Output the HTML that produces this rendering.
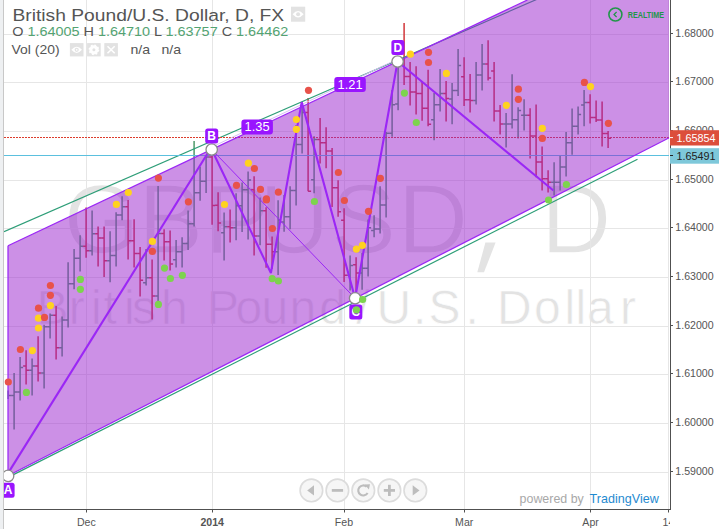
<!DOCTYPE html><html><head><meta charset="utf-8"><style>
html,body{margin:0;padding:0;background:#fff;overflow:hidden}
svg{display:block}
text{font-family:"Liberation Sans",sans-serif}
</style></head><body>
<svg width="719" height="529" viewBox="0 0 719 529">
<rect width="719" height="529" fill="#ffffff"/>
<rect x="0" y="0" width="3" height="529" fill="#eef0f2"/>
<rect x="3" y="0" width="1" height="529" fill="#c8c8c8"/>
<defs><clipPath id="pane"><rect x="4" y="0" width="665" height="509"/></clipPath></defs>
<g clip-path="url(#pane)">
<text x="63.5 138.0 204.5 258.9 330.7 397.5 540.7" y="252.7" font-size="98" fill="#e3e3e3" stroke="#fff" stroke-width="1.4">GBPUSDD</text>
<polygon points="485.4,242.6 495.6,242.6 484,272.3 477.3,272.3" fill="#e3e3e3"/>
<text x="36.4 68.7 91.1 103.4 124.0 132.1 161.0 207.0 235.4 261.5 289.6 319.2 356.3 376.6 413.1 428.6 465.5 496.9 534.0 564.5 575.6 586.9 619.9" y="324.2" font-size="48" fill="#e3e3e3" stroke="#fff" stroke-width="0.6">BritishPound/U.S.Dollar</text>
<line x1="4" y1="34.5" x2="670" y2="34.5" stroke="#e6e6e6" stroke-width="1"/>
<line x1="4" y1="82.5" x2="670" y2="82.5" stroke="#e6e6e6" stroke-width="1"/>
<line x1="4" y1="131.5" x2="670" y2="131.5" stroke="#e6e6e6" stroke-width="1"/>
<line x1="4" y1="180.5" x2="670" y2="180.5" stroke="#e6e6e6" stroke-width="1"/>
<line x1="4" y1="228.5" x2="670" y2="228.5" stroke="#e6e6e6" stroke-width="1"/>
<line x1="4" y1="277.5" x2="670" y2="277.5" stroke="#e6e6e6" stroke-width="1"/>
<line x1="4" y1="326.5" x2="670" y2="326.5" stroke="#e6e6e6" stroke-width="1"/>
<line x1="4" y1="374.5" x2="670" y2="374.5" stroke="#e6e6e6" stroke-width="1"/>
<line x1="4" y1="423.5" x2="670" y2="423.5" stroke="#e6e6e6" stroke-width="1"/>
<line x1="4" y1="472.5" x2="670" y2="472.5" stroke="#e6e6e6" stroke-width="1"/>
<line x1="86.5" y1="0" x2="86.5" y2="509" stroke="#e6e6e6" stroke-width="1"/>
<line x1="212.5" y1="0" x2="212.5" y2="509" stroke="#e6e6e6" stroke-width="1"/>
<line x1="344.5" y1="0" x2="344.5" y2="509" stroke="#e6e6e6" stroke-width="1"/>
<line x1="464.5" y1="0" x2="464.5" y2="509" stroke="#e6e6e6" stroke-width="1"/>
<line x1="590.5" y1="0" x2="590.5" y2="509" stroke="#e6e6e6" stroke-width="1"/>
<line x1="668.5" y1="0" x2="668.5" y2="509" stroke="#e6e6e6" stroke-width="1"/>
<path d="M8.1 390.5V399.0M8.1 395.6H11.1" stroke="#4e9a6a" stroke-width="1.5" fill="none"/>
<path d="M14.1 373.1V429.5M11.1 395.6H14.1M14.1 391.9H17.1" stroke="#4e9a6a" stroke-width="1.5" fill="none"/>
<path d="M20.1 357.1V400.6M17.1 391.9H20.1M20.1 367.6H23.1" stroke="#4e9a6a" stroke-width="1.5" fill="none"/>
<path d="M26.1 350.2V384.5M23.1 365.9H26.1M26.1 370.3H29.1" stroke="#d2373a" stroke-width="1.5" fill="none"/>
<path d="M32.1 358.5V395.4M29.1 370.3H32.1M32.1 365.9H35.1" stroke="#4e9a6a" stroke-width="1.5" fill="none"/>
<path d="M38.1 336.3V381.5M35.1 365.9H38.1M38.1 373.1H41.1" stroke="#d2373a" stroke-width="1.5" fill="none"/>
<path d="M44.1 324.8V388.4M41.1 373.1H44.1M44.1 326.8H47.1" stroke="#4e9a6a" stroke-width="1.5" fill="none"/>
<path d="M50.1 313.4V338.6M47.1 326.8H50.1M50.1 315.3H53.1" stroke="#4e9a6a" stroke-width="1.5" fill="none"/>
<path d="M56.1 306.0V359.5M53.1 315.3H56.1M56.1 347.8H59.1" stroke="#d2373a" stroke-width="1.5" fill="none"/>
<path d="M62.1 316.4V356.4M59.1 347.8H62.1M62.1 319.9H65.1" stroke="#4e9a6a" stroke-width="1.5" fill="none"/>
<path d="M68.1 262.2V327.5M65.1 319.9H68.1M68.1 283.7H71.1" stroke="#4e9a6a" stroke-width="1.5" fill="none"/>
<path d="M74.1 249.1V289.3M71.1 283.7H74.1M74.1 258.2H77.1" stroke="#4e9a6a" stroke-width="1.5" fill="none"/>
<path d="M80.1 235.2V271.5M77.1 258.2H80.1M80.1 246.3H83.1" stroke="#4e9a6a" stroke-width="1.5" fill="none"/>
<path d="M86.1 207.4V257.7M83.1 246.3H86.1M86.1 250.8H89.1" stroke="#d2373a" stroke-width="1.5" fill="none"/>
<path d="M92.1 210.4V255.4M89.1 250.8H92.1M92.1 233.8H95.1" stroke="#4e9a6a" stroke-width="1.5" fill="none"/>
<path d="M98.1 226.4V266.4M95.1 233.8H98.1M98.1 238.0H101.1" stroke="#d2373a" stroke-width="1.5" fill="none"/>
<path d="M104.1 226.4V277.1M101.1 238.0H104.1M104.1 260.7H107.1" stroke="#d2373a" stroke-width="1.5" fill="none"/>
<path d="M110.1 231.3V282.3M107.1 260.7H110.1M110.1 255.6H113.1" stroke="#4e9a6a" stroke-width="1.5" fill="none"/>
<path d="M116.1 212.3V266.4M113.1 255.6H116.1M116.1 215.0H119.1" stroke="#4e9a6a" stroke-width="1.5" fill="none"/>
<path d="M122.1 196.3V220.3M119.1 215.0H122.1M122.1 206.7H125.1" stroke="#4e9a6a" stroke-width="1.5" fill="none"/>
<path d="M128.1 200.0V259.5M125.1 206.7H128.1M128.1 240.8H131.1" stroke="#d2373a" stroke-width="1.5" fill="none"/>
<path d="M134.1 219.2V267.4M131.1 240.8H134.1M134.1 253.5H137.1" stroke="#d2373a" stroke-width="1.5" fill="none"/>
<path d="M140.1 247.0V296.6M137.1 253.5H140.1M140.1 280.3H143.1" stroke="#d2373a" stroke-width="1.5" fill="none"/>
<path d="M146.1 249.0V285.5M143.1 282.7H146.1M146.1 277.8H149.1" stroke="#4e9a6a" stroke-width="1.5" fill="none"/>
<path d="M152.1 259.5V319.5M149.1 277.8H152.1M152.1 295.9H155.1" stroke="#d2373a" stroke-width="1.5" fill="none"/>
<path d="M158.1 186.1V304.0M155.1 296.0H158.1M158.1 233.4H161.1" stroke="#4e9a6a" stroke-width="1.5" fill="none"/>
<path d="M164.1 229.2V260.4M161.1 233.4H164.1M164.1 241.8H167.1" stroke="#d2373a" stroke-width="1.5" fill="none"/>
<path d="M170.1 230.4V270.6M167.1 241.8H170.1M170.1 263.9H173.1" stroke="#d2373a" stroke-width="1.5" fill="none"/>
<path d="M176.1 240.1V267.4M173.1 259.7H176.1M176.1 251.7H179.1" stroke="#4e9a6a" stroke-width="1.5" fill="none"/>
<path d="M182.1 237.3V267.4M179.1 251.7H182.1M182.1 243.4H185.1" stroke="#4e9a6a" stroke-width="1.5" fill="none"/>
<path d="M188.1 210.5V250.0M185.1 243.4H188.1M188.1 223.7H191.1" stroke="#4e9a6a" stroke-width="1.5" fill="none"/>
<path d="M194.1 141.0V226.5M191.1 223.7H194.1M194.1 192.8H197.1" stroke="#4e9a6a" stroke-width="1.5" fill="none"/>
<path d="M200.1 166.7V200.7M197.1 192.8H200.1M200.1 181.3H203.1" stroke="#4e9a6a" stroke-width="1.5" fill="none"/>
<path d="M206.1 155.0V193.1M203.1 181.3H206.1M206.1 157.0H209.1" stroke="#4e9a6a" stroke-width="1.5" fill="none"/>
<path d="M212.1 149.5V224.8M209.1 157.0H212.1M212.1 205.6H215.1" stroke="#d2373a" stroke-width="1.5" fill="none"/>
<path d="M218.1 192.3V231.3M215.1 205.3H218.1M218.1 223.0H221.1" stroke="#d2373a" stroke-width="1.5" fill="none"/>
<path d="M224.1 212.5V260.5M221.1 232.7H224.1M224.1 226.7H227.1" stroke="#4e9a6a" stroke-width="1.5" fill="none"/>
<path d="M230.1 209.5V242.4M227.1 226.7H230.1M230.1 227.8H233.1" stroke="#d2373a" stroke-width="1.5" fill="none"/>
<path d="M236.1 193.3V240.3M233.1 227.8H236.1M236.1 205.8H239.1" stroke="#4e9a6a" stroke-width="1.5" fill="none"/>
<path d="M242.1 182.6V232.0M239.1 205.8H242.1M242.1 189.8H245.1" stroke="#4e9a6a" stroke-width="1.5" fill="none"/>
<path d="M248.1 171.4V239.6M245.1 189.8H248.1M248.1 180.0H251.1" stroke="#4e9a6a" stroke-width="1.5" fill="none"/>
<path d="M254.1 176.3V255.6M251.1 189.8H254.1M254.1 235.9H257.1" stroke="#d2373a" stroke-width="1.5" fill="none"/>
<path d="M260.1 197.5V245.2M257.1 235.9H260.1M260.1 210.8H263.1" stroke="#4e9a6a" stroke-width="1.5" fill="none"/>
<path d="M266.1 207.2V267.7M263.1 210.8H266.1M266.1 244.2H269.1" stroke="#d2373a" stroke-width="1.5" fill="none"/>
<path d="M272.1 236.4V268.8M269.1 244.2H272.1M272.1 251.7H275.1" stroke="#d2373a" stroke-width="1.5" fill="none"/>
<path d="M278.1 200.2V275.0M275.1 251.7H278.1M278.1 220.0H281.1" stroke="#4e9a6a" stroke-width="1.5" fill="none"/>
<path d="M284.1 195.0V231.7M281.1 222.0H284.1M284.1 216.7H287.1" stroke="#4e9a6a" stroke-width="1.5" fill="none"/>
<path d="M290.1 186.3V229.2M287.1 216.7H290.1M290.1 190.5H293.1" stroke="#4e9a6a" stroke-width="1.5" fill="none"/>
<path d="M296.1 125.0V205.6M293.1 190.5H296.1M296.1 144.6H299.1" stroke="#4e9a6a" stroke-width="1.5" fill="none"/>
<path d="M302.1 102.8V153.4M299.1 144.6H302.1M302.1 112.5H305.1" stroke="#4e9a6a" stroke-width="1.5" fill="none"/>
<path d="M308.1 98.0V191.2M305.1 112.5H308.1M308.1 191.2H311.1" stroke="#d2373a" stroke-width="1.5" fill="none"/>
<path d="M314.1 136.3V193.3M311.1 179.8H314.1M314.1 139.5H317.1" stroke="#4e9a6a" stroke-width="1.5" fill="none"/>
<path d="M320.1 118.1V163.4M317.1 139.5H320.1M320.1 142.8H323.1" stroke="#d2373a" stroke-width="1.5" fill="none"/>
<path d="M326.1 127.2V168.2M323.1 142.8H326.1M326.1 150.9H329.1" stroke="#d2373a" stroke-width="1.5" fill="none"/>
<path d="M332.1 148.1V207.0M329.1 150.9H332.1M332.1 187.7H335.1" stroke="#d2373a" stroke-width="1.5" fill="none"/>
<path d="M338.1 180.3V216.7M335.1 187.7H338.1M338.1 211.8H341.1" stroke="#d2373a" stroke-width="1.5" fill="none"/>
<path d="M344.1 208.3V282.1M341.1 220.2H344.1M344.1 275.2H347.1" stroke="#d2373a" stroke-width="1.5" fill="none"/>
<path d="M350.1 255.6V290.5M347.1 275.2H350.1M350.1 265.6H353.1" stroke="#4e9a6a" stroke-width="1.5" fill="none"/>
<path d="M356.1 257.3V298.0M353.1 264.7H356.1M356.1 273.1H359.1" stroke="#d2373a" stroke-width="1.5" fill="none"/>
<path d="M362.1 252.9V289.8M359.1 273.1H362.1M362.1 268.2H365.1" stroke="#4e9a6a" stroke-width="1.5" fill="none"/>
<path d="M368.1 219.5V276.6M365.1 268.2H368.1M368.1 227.8H371.1" stroke="#4e9a6a" stroke-width="1.5" fill="none"/>
<path d="M374.1 215.3V237.3M371.1 230.6H374.1M374.1 228.9H377.1" stroke="#4e9a6a" stroke-width="1.5" fill="none"/>
<path d="M380.1 186.3V233.4M377.1 228.9H380.1M380.1 204.9H383.1" stroke="#4e9a6a" stroke-width="1.5" fill="none"/>
<path d="M386.1 131.9V217.4M383.1 204.9H386.1M386.1 133.2H389.1" stroke="#4e9a6a" stroke-width="1.5" fill="none"/>
<path d="M392.1 90.0V136.7M389.1 133.2H392.1M392.1 104.7H395.1" stroke="#4e9a6a" stroke-width="1.5" fill="none"/>
<path d="M398.1 62.0V110.3M395.1 104.1H398.1M398.1 63.0H401.1" stroke="#4e9a6a" stroke-width="1.5" fill="none"/>
<path d="M404.1 23.1V85.1M401.1 60.0H404.1M404.1 76.4H407.1" stroke="#d2373a" stroke-width="1.5" fill="none"/>
<path d="M410.1 62.1V105.4M407.1 76.4H410.1M410.1 92.0H413.1" stroke="#d2373a" stroke-width="1.5" fill="none"/>
<path d="M416.1 66.3V114.5M413.1 92.0H416.1M416.1 93.4H419.1" stroke="#d2373a" stroke-width="1.5" fill="none"/>
<path d="M422.1 82.0V120.7M419.1 93.4H422.1M422.1 108.2H425.1" stroke="#d2373a" stroke-width="1.5" fill="none"/>
<path d="M428.1 69.8V126.3M425.1 108.2H428.1M428.1 124.2H431.1" stroke="#d2373a" stroke-width="1.5" fill="none"/>
<path d="M434.1 93.0V140.2M431.1 119.8H434.1M434.1 104.7H437.1" stroke="#4e9a6a" stroke-width="1.5" fill="none"/>
<path d="M440.1 69.1V111.4M437.1 104.7H440.1M440.1 93.4H443.1" stroke="#4e9a6a" stroke-width="1.5" fill="none"/>
<path d="M446.1 80.9V121.4M443.1 93.4H446.1M446.1 98.5H449.1" stroke="#d2373a" stroke-width="1.5" fill="none"/>
<path d="M452.1 83.0V124.2M449.1 99.0H452.1M452.1 90.6H455.1" stroke="#4e9a6a" stroke-width="1.5" fill="none"/>
<path d="M458.1 48.9V95.9M455.1 90.6H458.1M458.1 65.6H461.1" stroke="#4e9a6a" stroke-width="1.5" fill="none"/>
<path d="M464.1 57.3V106.1M461.1 76.7H464.1M464.1 99.7H467.1" stroke="#d2373a" stroke-width="1.5" fill="none"/>
<path d="M470.1 73.9V112.4M467.1 99.7H470.1M470.1 100.4H473.1" stroke="#d2373a" stroke-width="1.5" fill="none"/>
<path d="M476.1 62.1V104.5M473.1 100.4H476.1M476.1 75.1H479.1" stroke="#4e9a6a" stroke-width="1.5" fill="none"/>
<path d="M482.1 44.0V90.6M479.1 75.1H482.1M482.1 63.9H485.1" stroke="#4e9a6a" stroke-width="1.5" fill="none"/>
<path d="M488.1 40.3V80.6M485.1 63.9H488.1M488.1 78.1H491.1" stroke="#d2373a" stroke-width="1.5" fill="none"/>
<path d="M494.1 62.1V121.4M491.1 70.9H494.1M494.1 111.0H497.1" stroke="#d2373a" stroke-width="1.5" fill="none"/>
<path d="M500.1 105.0V134.6M497.1 111.0H500.1M500.1 123.9H503.1" stroke="#d2373a" stroke-width="1.5" fill="none"/>
<path d="M506.1 113.1V147.6M503.1 123.9H506.1M506.1 123.9H509.1" stroke="#4e9a6a" stroke-width="1.5" fill="none"/>
<path d="M512.1 74.2V128.4M509.1 123.9H512.1M512.1 119.8H515.1" stroke="#4e9a6a" stroke-width="1.5" fill="none"/>
<path d="M518.1 107.2V138.4M515.1 119.8H518.1M518.1 110.6H521.1" stroke="#4e9a6a" stroke-width="1.5" fill="none"/>
<path d="M524.1 99.2V130.5M521.1 115.2H524.1M524.1 115.2H527.1" stroke="#4e9a6a" stroke-width="1.5" fill="none"/>
<path d="M530.1 108.2V158.5M527.1 115.2H530.1M530.1 136.0H533.1" stroke="#d2373a" stroke-width="1.5" fill="none"/>
<path d="M536.1 104.5V177.3M533.1 136.0H536.1M536.1 162.0H539.1" stroke="#d2373a" stroke-width="1.5" fill="none"/>
<path d="M542.1 146.4V190.5M539.1 162.0H542.1M542.1 178.7H545.1" stroke="#d2373a" stroke-width="1.5" fill="none"/>
<path d="M548.1 170.3V192.6M545.1 178.7H548.1M548.1 182.2H551.1" stroke="#d2373a" stroke-width="1.5" fill="none"/>
<path d="M554.1 162.3V195.4M551.1 182.2H554.1M554.1 182.2H557.1" stroke="#4e9a6a" stroke-width="1.5" fill="none"/>
<path d="M560.1 156.1V190.5M557.1 182.2H560.1M560.1 166.9H563.1" stroke="#4e9a6a" stroke-width="1.5" fill="none"/>
<path d="M566.1 132.1V176.6M563.1 166.9H566.1M566.1 142.8H569.1" stroke="#4e9a6a" stroke-width="1.5" fill="none"/>
<path d="M572.1 108.4V154.8M569.1 142.8H572.1M572.1 126.2H575.1" stroke="#4e9a6a" stroke-width="1.5" fill="none"/>
<path d="M578.1 106.4V134.5M575.1 126.2H578.1M578.1 114.4H581.1" stroke="#4e9a6a" stroke-width="1.5" fill="none"/>
<path d="M584.1 90.0V126.2M581.1 105.1H584.1M584.1 102.6H587.1" stroke="#4e9a6a" stroke-width="1.5" fill="none"/>
<path d="M590.1 94.2V123.4M587.1 102.6H590.1M590.1 117.6H593.1" stroke="#d2373a" stroke-width="1.5" fill="none"/>
<path d="M596.1 100.5V122.0M593.1 117.6H596.1M596.1 119.9H599.1" stroke="#d2373a" stroke-width="1.5" fill="none"/>
<path d="M602.1 101.4V146.4M599.1 119.9H602.1M602.1 133.4H605.1" stroke="#d2373a" stroke-width="1.5" fill="none"/>
<path d="M608.1 131.1V148.1M605.1 133.4H608.1M608.1 138.3H611.1" stroke="#d2373a" stroke-width="1.5" fill="none"/>
<line x1="4" y1="231.7" x2="545" y2="-4.2" stroke="#2e9e78" stroke-width="1.2"/>
<line x1="9" y1="476.9" x2="637.5" y2="159.25" stroke="#2e9e78" stroke-width="1.2"/>
<line x1="4" y1="155.5" x2="670" y2="155.5" stroke="#5bc0de" stroke-width="1"/>
<line x1="4" y1="137.5" x2="670" y2="137.5" stroke="#dc3c2c" stroke-width="1" stroke-dasharray="2,1"/>
<polygon points="8,245.8 527.4,0 670,0 670,137.4 8,475.8" fill="rgb(153,33,205)" fill-opacity="0.5"/>
<line x1="8" y1="245.8" x2="527.4" y2="0" stroke="#9b27f5" stroke-width="1.25"/>
<line x1="8" y1="475.8" x2="670" y2="137.4" stroke="#9b27f5" stroke-width="1.25"/>
<line x1="8" y1="245.8" x2="8" y2="475.8" stroke="#9b27f5" stroke-width="1.25"/>
<line x1="215.7" y1="145.2" x2="393.6" y2="61.0" stroke="#d9bdf5" stroke-width="1"/>
<line x1="6.4" y1="475.9" x2="210.0" y2="149.5" stroke="#9b27f5" stroke-width="2.1"/>
<polyline points="211.7,149.5 270.9,273.0 301.7,102.1 355.1,298.3 397.6,61.5 553.4,190.5" fill="none" stroke="#9b27f5" stroke-width="2.1" stroke-linejoin="bevel"/>
<line x1="211.7" y1="149.5" x2="355.1" y2="298.3" stroke="#9b27f5" stroke-width="1"/>
<circle cx="8.1" cy="475.9" r="5.7" fill="#fff" stroke="#8a8a8a" stroke-width="1.3"/>
<circle cx="211.7" cy="149.5" r="5.7" fill="#fff" stroke="#8a8a8a" stroke-width="1.3"/>
<circle cx="355.1" cy="298.3" r="5.7" fill="#fff" stroke="#8a8a8a" stroke-width="1.3"/>
<circle cx="397.6" cy="61.5" r="5.7" fill="#fff" stroke="#8a8a8a" stroke-width="1.3"/>
<rect x="1.6" y="482.7" width="13" height="15" rx="2.5" fill="#9915ff"/>
<text x="8.1" y="494.2" font-size="12" font-weight="bold" fill="#fff" text-anchor="middle">A</text>
<rect x="205.2" y="128.5" width="13" height="15" rx="2.5" fill="#9915ff"/>
<text x="211.7" y="140.0" font-size="12" font-weight="bold" fill="#fff" text-anchor="middle">B</text>
<rect x="349.3" y="304.4" width="13" height="15" rx="2.5" fill="#9915ff"/>
<text x="355.8" y="315.9" font-size="12" font-weight="bold" fill="#fff" text-anchor="middle">C</text>
<rect x="391.4" y="40.0" width="13" height="15" rx="2.5" fill="#9915ff"/>
<text x="397.9" y="51.5" font-size="12" font-weight="bold" fill="#fff" text-anchor="middle">D</text>
<rect x="241.4" y="119.4" width="31.5" height="15" rx="3" fill="#9915ff"/>
<text x="257.1" y="131.2" font-size="13" fill="#fff" text-anchor="middle" textLength="25" lengthAdjust="spacingAndGlyphs">1.35</text>
<rect x="334.3" y="77.0" width="31.5" height="15" rx="3" fill="#9915ff"/>
<text x="350.1" y="88.8" font-size="13" fill="#fff" text-anchor="middle" textLength="25" lengthAdjust="spacingAndGlyphs">1.21</text>
<circle cx="8.3" cy="382" r="3.6" fill="#e8524a"/>
<circle cx="20.4" cy="349.5" r="3.6" fill="#e8524a"/>
<circle cx="32.4" cy="350.6" r="3.6" fill="#ffd21f"/>
<circle cx="26.4" cy="392.4" r="3.6" fill="#7dd34e"/>
<circle cx="50.4" cy="285.5" r="3.6" fill="#e8524a"/>
<circle cx="50.4" cy="295.3" r="3.6" fill="#e8524a"/>
<circle cx="50.4" cy="305.6" r="3.6" fill="#ffd21f"/>
<circle cx="38.5" cy="308.2" r="3.6" fill="#e8524a"/>
<circle cx="38.5" cy="318.2" r="3.6" fill="#ffd21f"/>
<circle cx="44.5" cy="317.4" r="3.6" fill="#e8524a"/>
<circle cx="38.5" cy="328" r="3.6" fill="#ffd21f"/>
<circle cx="80.4" cy="279.4" r="3.6" fill="#7dd34e"/>
<circle cx="80.4" cy="289.3" r="3.6" fill="#7dd34e"/>
<circle cx="116.4" cy="204.4" r="3.6" fill="#ffd21f"/>
<circle cx="128.3" cy="192.5" r="3.6" fill="#ffd21f"/>
<circle cx="152.4" cy="241.4" r="3.6" fill="#ffd21f"/>
<circle cx="152.4" cy="251.4" r="3.6" fill="#e8524a"/>
<circle cx="164.5" cy="268.1" r="3.6" fill="#7dd34e"/>
<circle cx="170.4" cy="278.5" r="3.6" fill="#7dd34e"/>
<circle cx="182.4" cy="275.3" r="3.6" fill="#7dd34e"/>
<circle cx="158.4" cy="304.4" r="3.6" fill="#7dd34e"/>
<circle cx="158.4" cy="178.1" r="3.6" fill="#e8524a"/>
<circle cx="188.4" cy="201.8" r="3.6" fill="#e8524a"/>
<circle cx="224.5" cy="204.5" r="3.6" fill="#ffd21f"/>
<circle cx="248.4" cy="163.2" r="3.6" fill="#ffd21f"/>
<circle cx="254.4" cy="168.5" r="3.6" fill="#e8524a"/>
<circle cx="236.5" cy="185.3" r="3.6" fill="#e8524a"/>
<circle cx="260.5" cy="189.4" r="3.6" fill="#e8524a"/>
<circle cx="266.4" cy="198.8" r="3.6" fill="#e8524a"/>
<circle cx="278.4" cy="192.2" r="3.6" fill="#e8524a"/>
<circle cx="272.4" cy="228.5" r="3.6" fill="#e8524a"/>
<circle cx="266.4" cy="200" r="3.6" fill="#e8524a"/>
<circle cx="272.2" cy="278.7" r="3.6" fill="#7dd34e"/>
<circle cx="278.4" cy="281" r="3.6" fill="#7dd34e"/>
<circle cx="308.5" cy="90.3" r="3.6" fill="#e8524a"/>
<circle cx="296.4" cy="119.5" r="3.6" fill="#ffd21f"/>
<circle cx="296.4" cy="129.3" r="3.6" fill="#ffd21f"/>
<circle cx="338.4" cy="172.5" r="3.6" fill="#e8524a"/>
<circle cx="344.4" cy="200.5" r="3.6" fill="#e8524a"/>
<circle cx="380.4" cy="178.3" r="3.6" fill="#e8524a"/>
<circle cx="314.4" cy="201.5" r="3.6" fill="#7dd34e"/>
<circle cx="368.5" cy="211.3" r="3.6" fill="#e8524a"/>
<circle cx="356.4" cy="249.1" r="3.6" fill="#ffd21f"/>
<circle cx="362.4" cy="245.4" r="3.6" fill="#ffd21f"/>
<circle cx="362.6" cy="299.5" r="3.6" fill="#7dd34e"/>
<circle cx="356.4" cy="309.9" r="3.6" fill="#7dd34e"/>
<circle cx="410.4" cy="54.2" r="3.6" fill="#ffd21f"/>
<circle cx="428.5" cy="52.3" r="3.6" fill="#e8524a"/>
<circle cx="428.5" cy="62.5" r="3.6" fill="#e8524a"/>
<circle cx="446.4" cy="73.4" r="3.6" fill="#ffd21f"/>
<circle cx="404.4" cy="93.1" r="3.6" fill="#7dd34e"/>
<circle cx="416.3" cy="122.5" r="3.6" fill="#7dd34e"/>
<circle cx="518.4" cy="89.2" r="3.6" fill="#e8524a"/>
<circle cx="518.4" cy="99.3" r="3.6" fill="#e8524a"/>
<circle cx="506.4" cy="105.3" r="3.6" fill="#ffd21f"/>
<circle cx="542.3" cy="128.3" r="3.6" fill="#ffd21f"/>
<circle cx="542.3" cy="138.4" r="3.6" fill="#e8524a"/>
<circle cx="566.4" cy="184.5" r="3.6" fill="#7dd34e"/>
<circle cx="548.5" cy="200" r="3.6" fill="#7dd34e"/>
<circle cx="584.4" cy="82.4" r="3.6" fill="#e8524a"/>
<circle cx="590.5" cy="86.6" r="3.6" fill="#ffd21f"/>
<circle cx="608.4" cy="123.3" r="3.6" fill="#e8524a"/>
</g>
<circle cx="615.4" cy="14.5" r="6.5" fill="none" stroke="#22964a" stroke-width="1.6"/>
<path d="M616.6 12L614 14.5L616.6 17" fill="none" stroke="#22964a" stroke-width="1.2"/>
<text x="627.8" y="17.9" font-size="8.8" font-weight="bold" fill="#22964a" textLength="36.2" lengthAdjust="spacingAndGlyphs">REALTIME</text>
<rect x="670" y="0" width="49" height="529" fill="#fff"/>
<line x1="670.5" y1="0" x2="670.5" y2="510" stroke="#505050" stroke-width="1"/>
<line x1="671" y1="33.5" x2="673" y2="33.5" stroke="#505050" stroke-width="1"/>
<text x="675.3" y="36.6" font-size="10.6" fill="#555">1.68000</text>
<line x1="671" y1="81.5" x2="673" y2="81.5" stroke="#505050" stroke-width="1"/>
<text x="675.3" y="85.3" font-size="10.6" fill="#555">1.67000</text>
<line x1="671" y1="130.5" x2="673" y2="130.5" stroke="#505050" stroke-width="1"/>
<text x="675.3" y="133.9" font-size="10.6" fill="#555">1.66000</text>
<line x1="671" y1="179.5" x2="673" y2="179.5" stroke="#505050" stroke-width="1"/>
<text x="675.3" y="182.6" font-size="10.6" fill="#555">1.65000</text>
<line x1="671" y1="227.5" x2="673" y2="227.5" stroke="#505050" stroke-width="1"/>
<text x="675.3" y="231.3" font-size="10.6" fill="#555">1.64000</text>
<line x1="671" y1="276.5" x2="673" y2="276.5" stroke="#505050" stroke-width="1"/>
<text x="675.3" y="280.0" font-size="10.6" fill="#555">1.63000</text>
<line x1="671" y1="325.5" x2="673" y2="325.5" stroke="#505050" stroke-width="1"/>
<text x="675.3" y="328.6" font-size="10.6" fill="#555">1.62000</text>
<line x1="671" y1="373.5" x2="673" y2="373.5" stroke="#505050" stroke-width="1"/>
<text x="675.3" y="377.3" font-size="10.6" fill="#555">1.61000</text>
<line x1="671" y1="422.5" x2="673" y2="422.5" stroke="#505050" stroke-width="1"/>
<text x="675.3" y="426.0" font-size="10.6" fill="#555">1.60000</text>
<line x1="671" y1="471.5" x2="673" y2="471.5" stroke="#505050" stroke-width="1"/>
<text x="675.3" y="474.6" font-size="10.6" fill="#555">1.59000</text>
<rect x="670" y="130.2" width="49" height="15.3" fill="#dc4e3b"/>
<line x1="670" y1="137.6" x2="673" y2="137.6" stroke="#fff" stroke-width="1"/>
<text x="676.5" y="141.6" font-size="10.8" fill="#fff">1.65854</text>
<rect x="670" y="148.2" width="49" height="15.5" fill="#7ec8da"/>
<line x1="670" y1="155.5" x2="673" y2="155.5" stroke="#222" stroke-width="1"/>
<text x="676.5" y="159.7" font-size="10.8" fill="#222">1.65491</text>
<rect x="0" y="509" width="719" height="20" fill="#fff"/>
<rect x="0" y="509" width="3" height="20" fill="#eef0f2"/>
<rect x="3" y="509" width="1" height="20" fill="#c8c8c8"/>
<line x1="4" y1="509.5" x2="671" y2="509.5" stroke="#505050" stroke-width="1"/>
<line x1="86.5" y1="510" x2="86.5" y2="512.5" stroke="#505050" stroke-width="1"/>
<line x1="212.5" y1="510" x2="212.5" y2="512.5" stroke="#505050" stroke-width="1"/>
<line x1="344.5" y1="510" x2="344.5" y2="512.5" stroke="#505050" stroke-width="1"/>
<line x1="464.5" y1="510" x2="464.5" y2="512.5" stroke="#505050" stroke-width="1"/>
<line x1="590.5" y1="510" x2="590.5" y2="512.5" stroke="#505050" stroke-width="1"/>
<line x1="668.5" y1="510" x2="668.5" y2="512.5" stroke="#505050" stroke-width="1"/>
<text x="86.4" y="525.5" font-size="10.6" fill="#555" text-anchor="middle">Dec</text>
<text x="212.2" y="525.5" font-size="10.6" font-weight="bold" fill="#555" text-anchor="middle">2014</text>
<text x="344" y="525.5" font-size="10.6" fill="#555" text-anchor="middle">Feb</text>
<text x="464.2" y="525.5" font-size="10.6" fill="#555" text-anchor="middle">Mar</text>
<text x="590.6" y="525.5" font-size="10.6" fill="#555" text-anchor="middle">Apr</text>
<defs><clipPath id="tax"><rect x="0" y="509" width="670" height="20"/></clipPath></defs>
<text x="668.4" y="525.5" font-size="10.6" fill="#555" text-anchor="middle" clip-path="url(#tax)">14</text>
<text x="519.6" y="502.9" font-size="13.6" fill="#a8a8a8" textLength="64.2" lengthAdjust="spacingAndGlyphs">powered by</text>
<text x="589.6" y="502.9" font-size="13.6" fill="#1f8ad0" textLength="69.2" lengthAdjust="spacingAndGlyphs">TradingView</text>
<circle cx="311.4" cy="490.4" r="11.3" fill="#f4f4f4" fill-opacity="0.85" stroke="#dcdcdc" stroke-width="1.6"/>
<circle cx="337.4" cy="490.4" r="11.3" fill="#f4f4f4" fill-opacity="0.85" stroke="#dcdcdc" stroke-width="1.6"/>
<circle cx="363.3" cy="490.4" r="11.3" fill="#f4f4f4" fill-opacity="0.85" stroke="#dcdcdc" stroke-width="1.6"/>
<circle cx="389.4" cy="490.4" r="11.3" fill="#f4f4f4" fill-opacity="0.85" stroke="#dcdcdc" stroke-width="1.6"/>
<circle cx="415.3" cy="490.4" r="11.3" fill="#f4f4f4" fill-opacity="0.85" stroke="#dcdcdc" stroke-width="1.6"/>
<path d="M307.2 490.4L314 485.3V495.5Z" fill="#bdbdbd"/>
<rect x="331.8" y="489" width="11.3" height="2.8" fill="#bdbdbd"/>
<path d="M366.6 486.7A5 5 0 1 0 367.6 492.9" fill="none" stroke="#bdbdbd" stroke-width="2.1"/>
<path d="M364.6 484.6L370 484.2L368.9 489.6Z" fill="#bdbdbd"/>
<rect x="383.8" y="489" width="11.2" height="2.8" fill="#bdbdbd"/><rect x="388" y="484.8" width="2.8" height="11.2" fill="#bdbdbd"/>
<path d="M419.5 490.4L412.7 485.3V495.5Z" fill="#bdbdbd"/>
<text x="12.4" y="20.9" font-size="17.2" fill="#555" textLength="271.8" lengthAdjust="spacingAndGlyphs">British Pound/U.S. Dollar, D, FX</text>
<rect x="291" y="6.7" width="14.2" height="15" fill="#e2e2e2"/>
<path d="M292.6 14.2Q298.1 7.8 303.6 14.2Q298.1 20.6 292.6 14.2Z" fill="#fff"/><circle cx="298.1" cy="14.2" r="2" fill="#e2e2e2"/>
<text x="12.2" y="35.6" font-size="12.1" fill="#555" textLength="276" lengthAdjust="spacingAndGlyphs">O <tspan fill="#53a372">1.64005</tspan> H <tspan fill="#53a372">1.64710</tspan> L <tspan fill="#53a372">1.63757</tspan> C <tspan fill="#53a372">1.64462</tspan></text>
<text x="11.6" y="53.9" font-size="12.8" fill="#555" textLength="48" lengthAdjust="spacingAndGlyphs">Vol (20)</text>
<rect x="69.9" y="43.1" width="13.6" height="13.3" fill="#e2e2e2"/>
<rect x="87.1" y="43.1" width="13.6" height="13.3" fill="#e2e2e2"/>
<rect x="104.3" y="43.1" width="13.6" height="13.3" fill="#e2e2e2"/>
<path d="M71.4 49.8Q76.7 43.6 82 49.8Q76.7 56 71.4 49.8Z" fill="#fff"/><circle cx="76.7" cy="49.8" r="2.1" fill="#e2e2e2"/><circle cx="76.7" cy="49.8" r="0.9" fill="#fff"/>
<circle cx="93.9" cy="49.8" r="4.6" fill="#fff" stroke="#fff" stroke-width="1.6" stroke-dasharray="1.8,1.8"/><circle cx="93.9" cy="49.8" r="3.6" fill="#fff"/><circle cx="93.9" cy="49.8" r="1.5" fill="#e2e2e2"/>
<path d="M107.5 46.3L114.7 53.3M114.7 46.3L107.5 53.3" stroke="#fff" stroke-width="1.6"/>
<text x="130.5" y="53.9" font-size="13" fill="#555" textLength="19.6" lengthAdjust="spacingAndGlyphs">n/a</text>
<text x="161.4" y="53.9" font-size="13" fill="#555" textLength="19.6" lengthAdjust="spacingAndGlyphs">n/a</text>
</svg></body></html>
